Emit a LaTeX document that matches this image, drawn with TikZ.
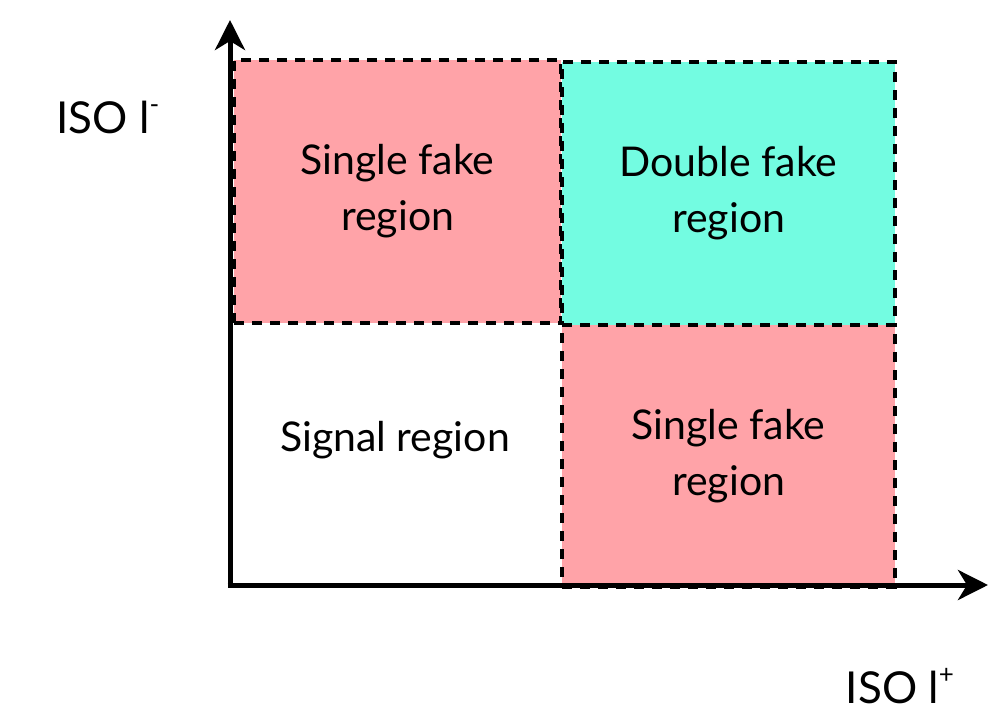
\documentclass[tikz,border=0pt]{standalone}
\usepackage{fontspec}
\setmainfont{Lato}
\usetikzlibrary{arrows.meta}
\definecolor{fakepink}{RGB}{255,163,168}
\definecolor{fakecyan}{RGB}{115,252,225}
\begin{document}
\begin{tikzpicture}[x=1pt,y=-1pt,
  region/.style={draw=black, dash pattern=on 10pt off 8pt, line width=4.2pt,
    inner sep=0pt, anchor=north west, align=center,
    font=\fontsize{41}{56}\selectfont},
  lbl/.style={font=\fontsize{41}{56}\selectfont, align=center, inner sep=0pt},
  axislbl/.style={font=\fontsize{44}{50}\selectfont, inner sep=0pt},
  axis/.style={line width=5pt, -{Stealth[length=30pt, width=30pt, inset=9pt]}}]
\useasboundingbox (0,0) rectangle (989,712);
\node[region, fill=fakepink, minimum width=327pt, minimum height=263pt] (sf1) at (232,58) {Single fake\\region};
\node[region, fill=fakecyan, minimum width=333pt, minimum height=263pt] (df) at (560,60) {Double fake\\region};
\node[region, fill=fakepink, minimum width=333pt, minimum height=262pt] (sf2) at (560,323) {Single fake\\region};
\node[lbl] (sig) at (395,440) {Signal region};
\coordinate (o) at (230,585);
\coordinate (ytip) at (230,20);
\coordinate (xtip) at (988,585);
\draw[axis] ([xshift=-2.5pt]o) -- (xtip);
\draw[axis] ([yshift=-2.5pt]o) -- (ytip);
\node[axislbl] (ylab) at (108,117) {ISO l\raisebox{0.45em}{\fontsize{26}{26}\selectfont -}};
\node[axislbl] (xlab) at (900,686) {ISO l\raisebox{0.45em}{\fontsize{26}{26}\selectfont +}};
\end{tikzpicture}
\end{document}
